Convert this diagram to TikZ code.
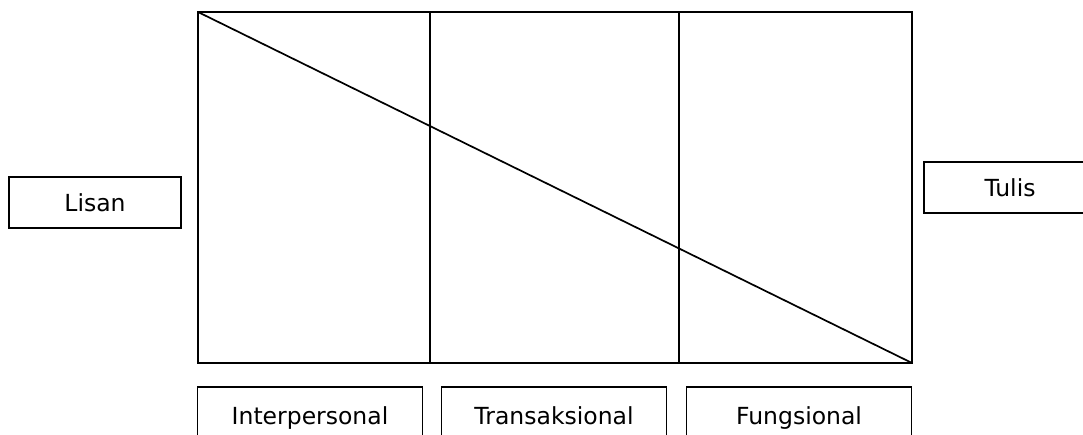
\documentclass[tikz,border=0pt]{standalone}
\usepackage{fontspec}
\setmainfont{DejaVu Sans}
\begin{document}
\begin{tikzpicture}[x=1pt,y=-1pt,
  ln/.style={line width=1.7pt,black},
  labelbox/.style={draw,line width=1.7pt,inner sep=0pt,text height=17.3pt,text depth=0pt,
    font=\fontsize{23.5}{28}\selectfont}]
\useasboundingbox[fill=white] (0,0) rectangle (1083,435);
\coordinate (tl) at (198,12);
\coordinate (tr) at (912,12);
\coordinate (bl) at (198,363);
\coordinate (br) at (912,363);
\coordinate (v1t) at (430,12);
\coordinate (v1b) at (430,363);
\coordinate (v2t) at (679,12);
\coordinate (v2b) at (679,363);
\draw[ln] (tl) rectangle (br);
\draw[ln] (v1t) -- (v1b);
\draw[ln] (v2t) -- (v2b);
\draw[ln] (tl) -- (br);
\node[labelbox,minimum width=172pt,minimum height=51pt] (lisan) at (95,202.5) {Lisan};
\node[labelbox,minimum width=172pt,minimum height=51pt] (tulis) at (1010,187.5) {Tulis};
\node[labelbox,minimum width=225pt,minimum height=58pt] (inter) at (310,416) {Interpersonal};
\node[labelbox,minimum width=225pt,minimum height=58pt] (trans) at (554,416) {Transaksional};
\node[labelbox,minimum width=225pt,minimum height=58pt] (fung) at (799,416) {Fungsional};
\end{tikzpicture}
\end{document}
